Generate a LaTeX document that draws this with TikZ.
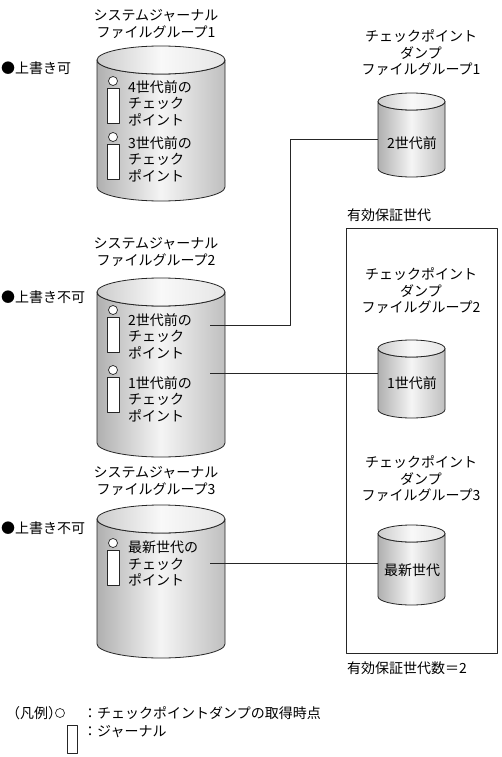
\documentclass[tikz,border=0pt]{standalone}
\usepackage{fontspec}
\setmainfont{Noto Sans CJK JP}
\newcommand{\drum}[5]{% cx, top y, bottom y, rx, ry
  \path[drumbody] (#1-#4,#2) -- (#1-#4,#3) arc[start angle=180,end angle=0,x radius=#4,y radius=#5]
    -- (#1+#4,#2) arc[start angle=0,end angle=180,x radius=#4,y radius=#5] -- cycle;
  \path[drumtop] (#1,#2) ellipse[x radius=#4,y radius=#5];
}
\newcommand{\jrnl}[2]{% circle centre
  \draw[jline] (#1-6,#2+7) rectangle (#1+6,#2+42);
  \draw[jline] (#1,#2) circle[radius=4.5];
}
\begin{document}
\begin{tikzpicture}[x=1pt, y=-1pt, line join=round,
    font=\fontsize{14}{16.5}\selectfont,
    drumbody/.style={draw=black!85, line width=0.8pt, left color=gray!62, right color=gray!50, middle color=gray!8},
    drumtop/.style={draw=black!85, line width=0.8pt, left color=gray!40, right color=gray!20, middle color=gray!5},
    jline/.style={draw=black!85, line width=0.7pt, fill=white},
    title/.style={align=center, inner sep=0pt},
    jtext/.style={align=left, anchor=north west, inner sep=0pt},
    link/.style={draw=black!85, line width=0.8pt}]
  \useasboundingbox (0,0) rectangle (501,757);
  % system journal file groups
  \node[title] (sjt1) at (156,24) {システムジャーナル\\ファイルグループ1};
  \node[title] (sjt2) at (156,252) {システムジャーナル\\ファイルグループ2};
  \node[title] (sjt3) at (156,481) {システムジャーナル\\ファイルグループ3};
  \node[anchor=west, inner sep=0pt] (ow1) at (1,68) {●上書き可};
  \node[anchor=west, inner sep=0pt] (ow2) at (1,297) {●上書き不可};
  \node[anchor=west, inner sep=0pt] (ow3) at (1,528) {●上書き不可};
  \drum{161}{60}{187}{64}{14}
  \drum{161}{292}{443}{64}{14}
  \drum{161}{519}{644}{64}{14}
  \jrnl{113}{81}
  \jrnl{113}{137}
  \jrnl{113}{310}
  \jrnl{113}{370}
  \jrnl{113}{543}
  \node[jtext] (jt4) at (128,80) {4世代前の\\チェック\\ポイント};
  \node[jtext] (jt3) at (128,136) {3世代前の\\チェック\\ポイント};
  \node[jtext] (jt2) at (128,313) {2世代前の\\チェック\\ポイント};
  \node[jtext] (jt1) at (128,376) {1世代前の\\チェック\\ポイント};
  \node[jtext] (jt0) at (128,541) {最新世代の\\チェック\\ポイント};
  % checkpoint dump file groups
  \node[title] (cdt1) at (421,53) {チェックポイント\\ダンプ\\ファイルグループ1};
  \node[title] (cdt2) at (421,291) {チェックポイント\\ダンプ\\ファイルグループ2};
  \node[title] (cdt3) at (421,479) {チェックポイント\\ダンプ\\ファイルグループ3};
  \drum{411.5}{101.5}{168.5}{33.5}{8.5}
  \drum{411.5}{348.5}{409.5}{33.5}{8.5}
  \drum{411.5}{533.5}{596.5}{33.5}{8.5}
  \node (cd1) at (412,143) {2世代前};
  \node (cd2) at (412,383) {1世代前};
  \node (cd3) at (412,570) {最新世代};
  % valid generations
  \draw[link] (346,228) rectangle (497,653);
  \node[anchor=west, inner sep=0pt] (vg) at (347,215) {有効保証世代};
  \node[anchor=west, inner sep=0pt] (vgn) at (347,668) {有効保証世代数＝2};
  % connectors
  \coordinate (p2) at (210,325);
  \coordinate (p1) at (210,373);
  \coordinate (p0) at (210,563);
  \coordinate (q2) at (378,139);
  \coordinate (q1) at (378,373);
  \coordinate (q0) at (378,563);
  \coordinate (bend) at (290,0);
  \draw[link] (p2) -| (bend |- q2) -- (q2);
  \draw[link] (p1) -- (q1);
  \draw[link] (p0) -- (q0);
  % legend
  \node[anchor=west, inner sep=0pt] (lg) at (6,713) {（凡例）};
  \draw[jline] (60,713) circle[radius=4.5];
  \node[anchor=west, inner sep=0pt] (lg1) at (83,713) {：チェックポイントダンプの取得時点};
  \draw[jline] (67,725) rectangle (77,753);
  \node[anchor=west, inner sep=0pt] (lg2) at (83,732) {：ジャーナル};
\end{tikzpicture}
\end{document}
